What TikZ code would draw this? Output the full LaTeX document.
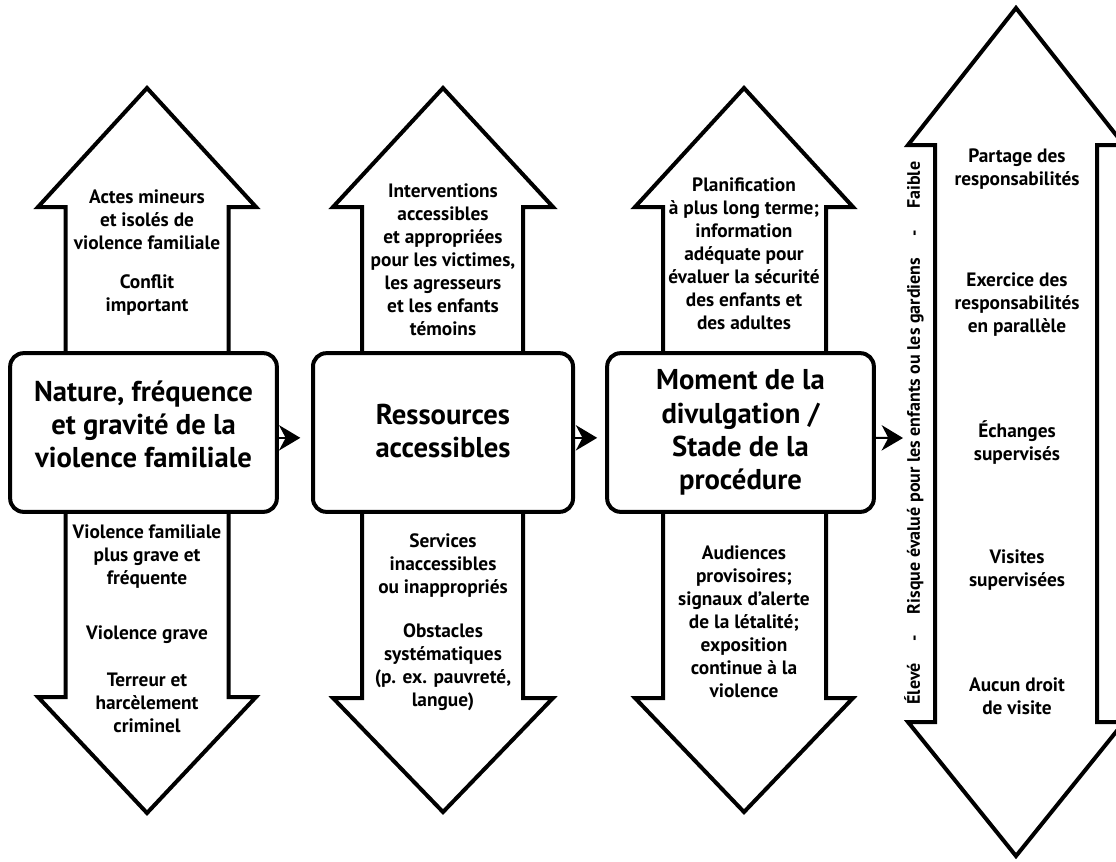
\documentclass[tikz,border=0pt]{standalone}
\usepackage{fontspec}
\setmainfont{PT Sans}
\usetikzlibrary{arrows.meta}
\begin{document}
\begin{tikzpicture}[x=0.75pt,y=-0.75pt,
  bigarrow/.style={draw=black,fill=white,line width=3pt,line join=miter},
  stagebox/.style={draw=black,fill=white,line width=3pt,rounded corners=10pt,
    minimum height=119pt,inner sep=0pt},
  title/.style={align=center,inner sep=0pt,font=\bfseries\fontsize{21.5pt}{25pt}\selectfont},
  txt/.style={align=center,inner sep=0pt,font=\bfseries\fontsize{14.5pt}{17.25pt}\selectfont},
  conn/.style={line width=1.5pt,-{Stealth[length=16pt,width=19pt,inset=5pt]}}]
\useasboundingbox (0,0) rectangle (1116,861);
\fill[white] (0,0) rectangle (1116,861);
% column 1 arrows
\draw[bigarrow] (65.5,353) -- (65.5,207) -- (38,207) -- (147,88) -- (256,207) -- (228.5,207) -- (228.5,353);
\draw[bigarrow] (65.5,512) -- (65.5,697) -- (38,697) -- (147,813) -- (256,697) -- (228.5,697) -- (228.5,512);
% column 2 arrows
\draw[bigarrow] (362,353) -- (362,207) -- (333,207) -- (443,88) -- (553,207) -- (523,207) -- (523,353);
\draw[bigarrow] (362,512) -- (362,698) -- (333,698) -- (443,812) -- (553,698) -- (523,698) -- (523,512);
% column 3 arrows
\draw[bigarrow] (663,353) -- (663,207) -- (635,207) -- (744,88) -- (853,207) -- (826,207) -- (826,353);
\draw[bigarrow] (663,512) -- (663,698) -- (635,698) -- (744,812) -- (853,698) -- (826,698) -- (826,512);
% column 4 double arrow
\draw[bigarrow] (935,145) -- (908,145) -- (1016,8) -- (1124,145) -- (1097,145) -- (1097,722) -- (1124,722) -- (1016,856) -- (908,722) -- (935,722) -- cycle;
% boxes
\node[stagebox,minimum width=200pt] (b1) at (143.5,432.5) {};
\node[stagebox,minimum width=195pt] (b2) at (443,432.5) {};
\node[stagebox,minimum width=200pt] (b3) at (740.5,432.5) {};
\node[title] (b1t) at (b1) [yshift=6pt] {Nature, fréquence\\et gravité de la\\violence familiale};
\node[title] (b2t) at (b2) [yshift=1pt] {Ressources\\accessibles};
\node[title] (b3t) at (b3) {Moment de la\\divulgation /\\Stade de la\\procédure};
% texts column 1
\node[txt] (t1a) at (147,220) {Actes mineurs\\et isolés de\\violence familiale};
\node[txt] (t1b) at (147,295) {Conflit\\important};
\node[txt] (t1c) at (147,557) {Violence familiale\\plus grave et\\fréquente};
\node[txt] (t1d) at (147,635) {Violence grave};
\node[txt] (t1e) at (147,703) {Terreur et\\harcèlement\\criminel};
% texts column 2
\node[txt] (t2a) at (443,260) {Interventions\\accessibles\\et appropriées\\pour les victimes,\\les agresseurs\\et les enfants\\témoins};
\node[txt] (t2b) at (443,566) {Services\\inaccessibles\\ou inappropriés};
\node[txt] (t2c) at (443,667) {Obstacles\\systématiques\\(p. ex. pauvreté,\\langue)};
% texts column 3
\node[txt] (t3a) at (744,254) {Planification\\à plus long terme;\\information\\adéquate pour\\évaluer la sécurité\\des enfants et\\des adultes};
\node[txt] (t3b) at (744,622) {Audiences\\provisoires;\\signaux d'alerte\\de la létalité;\\exposition\\continue à la\\violence};
% texts column 4
\node[txt] (t4a) at (1017,169) {Partage des\\responsabilités};
\node[txt] (t4b) at (1017,305) {Exercice des\\responsabilités\\en parallèle};
\node[txt] (t4c) at (1017,443) {Échanges\\supervisés};
\node[txt] (t4d) at (1017,570) {Visites\\supervisées};
\node[txt] (t4e) at (1017,696) {Aucun droit\\de visite};
\node[txt,rotate=90,font=\bfseries\fontsize{13.5pt}{15pt}\selectfont] (risk) at (914,433) {Élevé\hspace{16pt}-\hspace{16pt}Risque évalué pour les enfants ou les gardiens\hspace{16pt}-\hspace{16pt}Faible};
% connectors
\coordinate (c4) at (903,438);
\draw[conn,shorten >=8pt] ([yshift=-4pt]b1.east) -- ([yshift=-4pt]b2.west);
\draw[conn,shorten >=6pt] ([yshift=-4pt]b2.east) -- ([yshift=-4pt]b3.west);
\draw[conn] ([yshift=-4pt]b3.east) -- (c4);
\end{tikzpicture}
\end{document}
